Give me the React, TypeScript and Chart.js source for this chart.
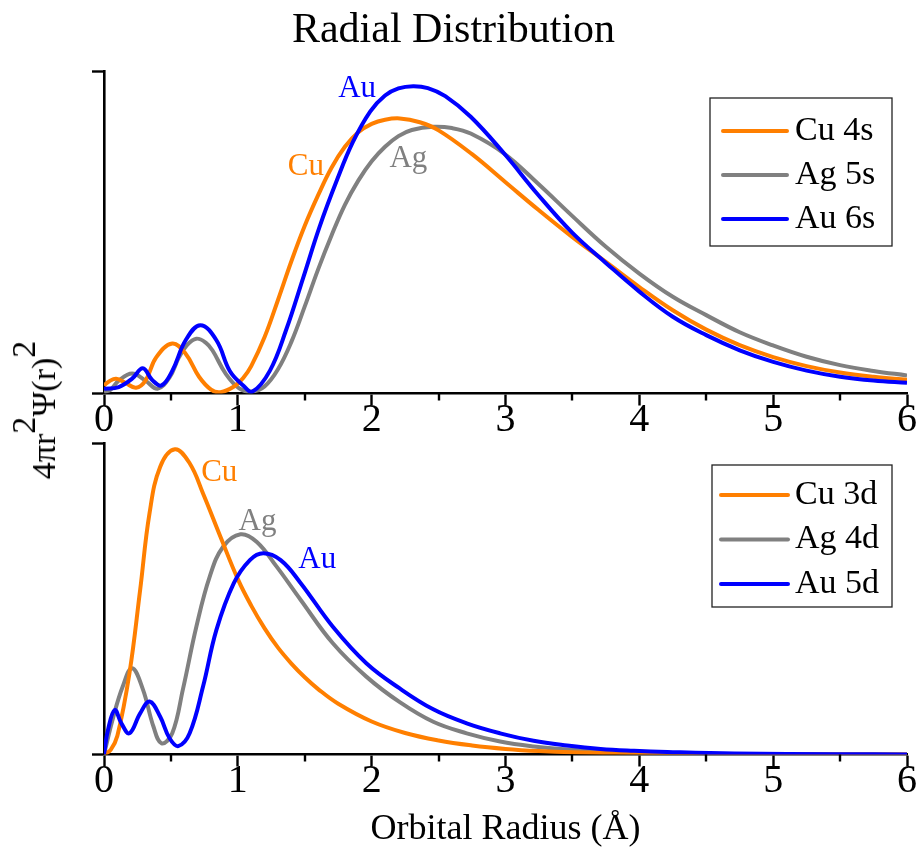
import React, { useEffect, useRef } from 'react';
import { Chart, registerables } from 'chart.js';

Chart.register(...registerables);

const FONT = "'Liberation Serif', 'Times New Roman', Times, serif";
const ORANGE = '#FF7F00';
const GRAY = '#808080';
const BLUE = '#0000FF';

// ---- valence s orbitals: radius (Å) and normalised 4πr²Ψ(r)² ----
const cu4sR = [0, 0.04, 0.09, 0.16, 0.24, 0.31, 0.39, 0.51, 0.61, 0.71, 0.8, 0.87, 0.98, 1.04, 1.1, 1.2, 1.3, 1.4, 1.5, 1.6, 1.7, 1.8, 1.9, 2.0, 2.1, 2.21, 2.36, 2.5, 2.75, 3.0, 3.25, 3.5, 3.75, 4.0, 4.25, 4.5, 4.75, 5.0, 5.25, 5.5, 5.75, 6.0];
const cu4sP = [0.025, 0.038, 0.046, 0.033, 0.018, 0.04, 0.112, 0.155, 0.123, 0.052, 0.012, 0.004, 0.024, 0.048, 0.085, 0.175, 0.29, 0.41, 0.52, 0.615, 0.7, 0.765, 0.81, 0.836, 0.849, 0.853, 0.841, 0.816, 0.742, 0.655, 0.568, 0.485, 0.408, 0.33, 0.258, 0.198, 0.15, 0.113, 0.085, 0.065, 0.052, 0.043];

const ag5sR = [0, 0.05, 0.11, 0.21, 0.31, 0.4, 0.49, 0.56, 0.62, 0.69, 0.76, 0.81, 0.91, 1.01, 1.1, 1.2, 1.3, 1.4, 1.5, 1.6, 1.7, 1.8, 1.9, 2.0, 2.1, 2.2, 2.3, 2.46, 2.6, 2.74, 2.99, 3.24, 3.5, 3.75, 4.0, 4.25, 4.5, 4.75, 5.0, 5.25, 5.5, 5.75, 6.0];
const ag5sP = [0.004, 0.012, 0.04, 0.062, 0.04, 0.015, 0.05, 0.112, 0.15, 0.17, 0.158, 0.134, 0.061, 0.016, 0.006, 0.022, 0.075, 0.16, 0.27, 0.385, 0.49, 0.585, 0.66, 0.72, 0.765, 0.798, 0.817, 0.827, 0.823, 0.806, 0.744, 0.652, 0.55, 0.455, 0.372, 0.3, 0.243, 0.19, 0.149, 0.114, 0.088, 0.07, 0.056];

const au6sR = [0, 0.11, 0.21, 0.29, 0.36, 0.43, 0.51, 0.61, 0.72, 0.84, 0.94, 1.04, 1.11, 1.24, 1.36, 1.49, 1.61, 1.74, 1.86, 1.99, 2.1, 2.2, 2.31, 2.42, 2.55, 2.74, 2.99, 3.24, 3.5, 3.75, 4.0, 4.25, 4.5, 4.75, 5.0, 5.25, 5.5, 5.75, 6.0];
const au6sP = [0.015, 0.02, 0.046, 0.078, 0.042, 0.025, 0.07, 0.165, 0.212, 0.165, 0.07, 0.025, 0.006, 0.071, 0.196, 0.361, 0.516, 0.661, 0.78, 0.875, 0.924, 0.946, 0.953, 0.947, 0.922, 0.858, 0.744, 0.618, 0.498, 0.405, 0.316, 0.238, 0.181, 0.134, 0.098, 0.071, 0.052, 0.04, 0.033];

// ---- valence d orbitals ----
const cu3dR = [0, 0.05, 0.1, 0.19, 0.27, 0.34, 0.42, 0.53, 0.64, 0.74, 0.87, 1.0, 1.1, 1.2, 1.3, 1.4, 1.5, 1.6, 1.75, 2.0, 2.25, 2.5, 2.75, 3.0, 3.25, 3.5, 4.0, 4.5, 5.0, 6.0];
const cu3dP = [0, 0.015, 0.06, 0.26, 0.528, 0.774, 0.924, 0.98, 0.935, 0.838, 0.699, 0.563, 0.478, 0.405, 0.343, 0.292, 0.248, 0.21, 0.163, 0.106, 0.069, 0.045, 0.029, 0.018, 0.011, 0.007, 0.003, 0.001, 0.0005, 0];

const ag4dR = [0, 0.07, 0.14, 0.21, 0.29, 0.37, 0.43, 0.51, 0.59, 0.69, 0.79, 0.89, 1.02, 1.14, 1.29, 1.47, 1.71, 1.96, 2.21, 2.46, 2.71, 2.96, 3.21, 3.46, 3.71, 4.21, 5.0, 6.0];
const ag4dP = [0, 0.121, 0.218, 0.277, 0.21, 0.089, 0.036, 0.068, 0.21, 0.41, 0.571, 0.667, 0.707, 0.683, 0.603, 0.496, 0.357, 0.25, 0.168, 0.105, 0.068, 0.042, 0.026, 0.016, 0.01, 0.004, 0.001, 0];

const au5dR = [0, 0.03, 0.08, 0.13, 0.19, 0.27, 0.34, 0.42, 0.49, 0.555, 0.64, 0.74, 0.84, 0.97, 1.09, 1.19, 1.32, 1.47, 1.71, 1.96, 2.21, 2.46, 2.71, 2.96, 3.21, 3.46, 3.71, 3.96, 4.21, 4.71, 5.5, 6.0];
const au5dP = [0, 0.079, 0.143, 0.1, 0.068, 0.132, 0.17, 0.121, 0.052, 0.027, 0.068, 0.218, 0.4, 0.55, 0.624, 0.646, 0.624, 0.55, 0.41, 0.293, 0.212, 0.145, 0.1, 0.068, 0.044, 0.029, 0.018, 0.012, 0.008, 0.003, 0.001, 0];

// ---- axes ----
const xMajorTicks = [0, 1, 2, 3, 4, 5, 6];
const xMinorTicks = [0.5, 1.5, 2.5, 3.5, 4.5, 5.5];
const sLabels = ['Cu 4s', 'Ag 5s', 'Au 6s'];
const dLabels = ['Cu 3d', 'Ag 4d', 'Au 5d'];
const elementTags = ['Cu', 'Ag', 'Au'];

const toPoints = (r: number[], p: number[]) => r.map((x, i) => ({ x, y: p[i] }));

type Tag = { text: string; x: number; y: number; color: string };
type LegendBox = {
  right: number; top: number; width: number; height: number;
  firstRow: number; rowGap: number; lineStart: number; lineEnd: number; textStart: number;
};

function series(label: string, r: number[], p: number[], color: string, order: number) {
  return {
    label,
    data: toPoints(r, p),
    borderColor: color,
    backgroundColor: color,
    borderWidth: 4,
    pointRadius: 0,
    fill: false,
    tension: 0.4,
    borderJoinStyle: 'round' as const,
    order,
  };
}

// short half-unit ticks under the x axis
function minorTickPlugin() {
  return {
    id: 'minorTicks',
    afterDraw(chart: any) {
      const { ctx, chartArea, scales } = chart;
      ctx.save();
      ctx.strokeStyle = '#000';
      ctx.lineWidth = 2.4;
      for (const v of xMinorTicks) {
        const px = Math.round(scales.x.getPixelForValue(v));
        ctx.beginPath();
        ctx.moveTo(px, chartArea.bottom);
        ctx.lineTo(px, chartArea.bottom + 7);
        ctx.stroke();
      }
      ctx.restore();
    },
  };
}

// framed legend in the upper right corner of the plot area
function boxLegendPlugin(box: LegendBox) {
  return {
    id: 'boxLegend',
    afterDatasetsDraw(chart: any) {
      const { ctx, chartArea } = chart;
      const x0 = chartArea.right - box.right - box.width;
      const y0 = chartArea.top + box.top;
      ctx.save();
      ctx.fillStyle = '#fff';
      ctx.fillRect(x0, y0, box.width, box.height);
      ctx.strokeStyle = '#222';
      ctx.lineWidth = 1.3;
      ctx.strokeRect(x0, y0, box.width, box.height);
      ctx.font = `34px ${FONT}`;
      ctx.textAlign = 'left';
      ctx.textBaseline = 'middle';
      chart.data.datasets.forEach((ds: any, i: number) => {
        const y = y0 + box.firstRow + i * box.rowGap;
        ctx.strokeStyle = ds.borderColor;
        ctx.lineWidth = ds.borderWidth;
        ctx.lineCap = 'round';
        ctx.beginPath();
        ctx.moveTo(x0 + box.lineStart, y);
        ctx.lineTo(x0 + box.lineEnd, y);
        ctx.stroke();
        ctx.fillStyle = '#000';
        ctx.fillText(ds.label, x0 + box.textStart, y);
      });
      ctx.restore();
    },
  };
}

// element names written next to their curves
function curveTagPlugin(tags: Tag[]) {
  return {
    id: 'curveTags',
    afterDatasetsDraw(chart: any) {
      const { ctx, scales } = chart;
      ctx.save();
      ctx.font = `31px ${FONT}`;
      ctx.textAlign = 'center';
      ctx.textBaseline = 'middle';
      for (const t of tags) {
        ctx.fillStyle = t.color;
        ctx.fillText(t.text, scales.x.getPixelForValue(t.x), scales.y.getPixelForValue(t.y));
      }
      ctx.restore();
    },
  };
}

type PanelOpts = {
  datasets: any[];
  title?: string;
  xTitle?: string;
  padTop: number;
  xAxisHeight: number;
  tickPadding: number;
  legend: LegendBox;
  tags: Tag[];
};

function panelConfig(o: PanelOpts): any {
  return {
    type: 'line',
    data: { datasets: o.datasets },
    plugins: [minorTickPlugin(), boxLegendPlugin(o.legend), curveTagPlugin(o.tags)],
    options: {
      responsive: false,
      animation: false,
      events: [],
      layout: { padding: { left: 0, right: 10, top: o.padTop, bottom: 0 } },
      plugins: {
        legend: { display: false },
        tooltip: { enabled: false },
        title: {
          display: !!o.title,
          text: o.title || '',
          color: '#000',
          font: { family: FONT, size: 42, weight: 'normal', lineHeight: 1.2 },
          padding: { top: 6, bottom: 14.6 },
        },
      },
      scales: {
        x: {
          type: 'linear',
          min: 0,
          max: 6,
          afterBuildTicks: (s: any) => {
            s.ticks = xMajorTicks.map((v) => ({ value: v }));
          },
          ticks: {
            color: '#000',
            font: { family: FONT, size: 40, lineHeight: 1 },
            padding: o.tickPadding,
            maxRotation: 0,
            autoSkip: false,
            callback: (v: number) => String(v),
          },
          grid: { drawOnChartArea: false, tickLength: 12, tickWidth: 2.4, color: '#000' },
          border: { display: true, color: '#000', width: 2.6 },
          title: o.xTitle
            ? {
                display: true,
                text: o.xTitle,
                color: '#000',
                font: { family: FONT, size: 36, lineHeight: 1.2 },
                padding: { top: 0, bottom: 0 },
              }
            : { display: false },
          afterFit: (s: any) => {
            s.height = o.xAxisHeight;
          },
        },
        y: {
          type: 'linear',
          min: 0,
          max: 1,
          ticks: { display: false, stepSize: 1 },
          grid: { drawOnChartArea: false, tickLength: 12, tickWidth: 2.4, color: '#000' },
          border: { display: true, color: '#000', width: 2.6 },
          afterFit: (s: any) => {
            s.width = 104;
          },
        },
      },
    },
  };
}

export default function App() {
  const topRef = useRef<HTMLCanvasElement>(null);
  const bottomRef = useRef<HTMLCanvasElement>(null);

  useEffect(() => {
    const top = new Chart(
      topRef.current as HTMLCanvasElement,
      panelConfig({
        datasets: [
          series(sLabels[0], cu4sR, cu4sP, ORANGE, 1),
          series(sLabels[1], ag5sR, ag5sP, GRAY, 2),
          series(sLabels[2], au6sR, au6sP, BLUE, 0),
        ],
        title: 'Radial Distribution',
        padTop: 0,
        xAxisHeight: 46.5,
        tickPadding: -5.5,
        legend: { right: 15, top: 27, width: 182, height: 148, firstRow: 33, rowGap: 44, lineStart: 13, lineEnd: 77, textStart: 85 },
        tags: [
          { text: elementTags[0], x: 1.508, y: 0.704, color: ORANGE },
          { text: elementTags[1], x: 2.274, y: 0.727, color: GRAY },
          { text: elementTags[2], x: 1.891, y: 0.946, color: BLUE },
        ],
      })
    );
    const bottom = new Chart(
      bottomRef.current as HTMLCanvasElement,
      panelConfig({
        datasets: [
          series(dLabels[0], cu3dR, cu3dP, ORANGE, 1),
          series(dLabels[1], ag4dR, ag4dP, GRAY, 2),
          series(dLabels[2], au5dR, au5dP, BLUE, 0),
        ],
        xTitle: 'Orbital Radius (Å)',
        padTop: 3,
        xAxisHeight: 96.5,
        tickPadding: -5.5,
        legend: { right: 15, top: 22, width: 180, height: 142, firstRow: 30, rowGap: 44.5, lineStart: 9, lineEnd: 76, textStart: 83 },
        tags: [
          { text: elementTags[0], x: 0.861, y: 0.905, color: ORANGE },
          { text: elementTags[1], x: 1.147, y: 0.747, color: GRAY },
          { text: elementTags[2], x: 1.593, y: 0.624, color: BLUE },
        ],
      })
    );
    return () => {
      top.destroy();
      bottom.destroy();
    };
  }, []);

  const sup: React.CSSProperties = { position: 'relative', top: '-0.6em', fontSize: '1em' };

  return (
    <div style={{ position: 'absolute', left: 0, top: 0, width: 917, height: 851, background: '#fff', overflow: 'hidden' }}>
      <canvas ref={topRef} width={917} height={440} style={{ position: 'absolute', left: 0, top: 0 }} />
      <canvas ref={bottomRef} width={917} height={411} style={{ position: 'absolute', left: 0, top: 440 }} />
      <div
        style={{
          position: 'absolute',
          left: 44,
          top: 410,
          transform: 'translate(-50%, -50%) rotate(-90deg)',
          fontFamily: FONT,
          fontSize: 34,
          lineHeight: 1,
          whiteSpace: 'nowrap',
          color: '#000',
        }}
      >
        4πr<span style={sup}>2</span>Ψ(r)<span style={sup}>2</span>
      </div>
    </div>
  );
}
